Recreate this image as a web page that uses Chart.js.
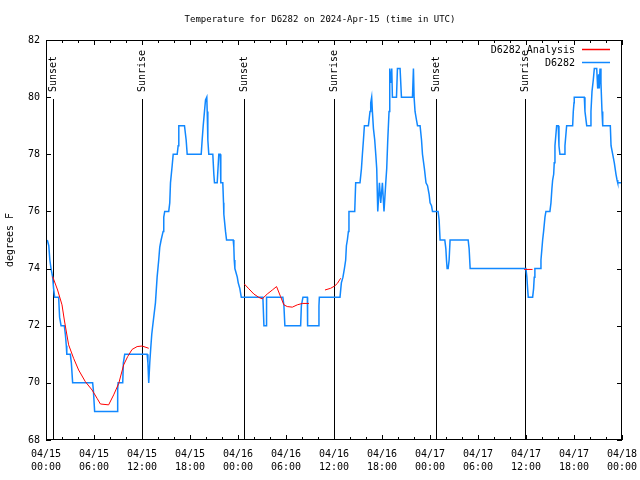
<!DOCTYPE html>
<html>
<head>
<meta charset="utf-8">
<title>Temperature for D6282</title>
<script src="https://cdn.jsdelivr.net/npm/chart.js@4.4.1/dist/chart.umd.min.js"></script>
<style>
  html, body { margin: 0; padding: 0; background: #fff; }
  canvas { display: block; }
</style>
</head>
<body>
<canvas id="myChart" width="640" height="480"></canvas>
<script>
// textos
const chartTitle = "Temperature for D6282 on 2024-Apr-15 (time in UTC)";
const yTitle = "degrees F";
const seriesNames = ["D6282 Analysis", "D6282"];

// observaciones: horas desde 04/15 00:00 UTC y temperatura (F)
const obsHours = [
  0.16, 0.35, 0.48, 0.63, 0.83, 0.95, 1.08, 1.58, 1.70, 1.88, 2.29, 2.42, 2.54, 2.60,
  3.04, 3.17, 3.33, 5.83, 5.92, 6.08, 8.89, 8.96, 9.01, 9.59, 9.67, 9.84, 12.64, 12.74,
  12.84, 12.97, 13.09, 13.22, 13.34, 13.68, 13.89, 14.09, 14.22, 14.39, 14.64, 14.72, 14.84,
  15.34, 15.47, 15.56, 15.77, 15.90, 16.40, 16.52, 16.60, 17.31, 17.52, 17.65, 19.40, 19.52,
  19.65, 19.81, 19.94, 20.10, 20.15, 20.23, 20.35, 20.85, 20.98, 21.06, 21.40, 21.60, 21.78,
  21.85, 22.10, 22.19, 22.23, 22.44, 22.57, 23.40, 23.48, 23.53, 23.61, 23.91, 24.03, 24.23,
  24.41, 27.11, 27.24, 27.54, 27.57, 29.61, 29.74, 29.86, 31.83, 31.92, 32.12, 32.67, 32.70,
  34.04, 34.12, 34.17, 36.75, 36.92, 37.12, 37.30, 37.46, 37.55, 37.67, 37.80, 37.87, 38.59,
  38.71, 39.25, 39.43, 39.55, 39.68, 39.80, 40.30, 40.50, 40.59, 40.71, 40.80, 40.93, 41.09,
  41.22, 41.34, 41.47, 41.68, 41.84, 42.05, 42.25, 42.47, 42.59, 42.72, 42.88, 42.97, 43.09,
  43.22, 43.30, 43.81, 43.93, 44.26, 44.43, 45.81, 45.93, 46.01, 46.13, 46.31, 46.44, 46.76,
  46.94, 47.06, 47.30, 47.50, 47.69, 47.89, 48.01, 48.19, 48.31, 49.01, 49.14, 49.26, 49.85,
  49.98, 50.06, 50.14, 50.27, 50.39, 50.51, 52.77, 52.89, 53.02, 59.99, 60.11, 60.20, 60.28,
  60.83, 60.95, 61.03, 61.11, 61.78, 61.87, 61.99, 62.08, 62.20, 62.37, 62.49, 62.99, 63.12,
  63.24, 63.33, 63.46, 63.53, 63.62, 63.83, 64.03, 64.12, 64.24, 64.78, 64.87, 65.08, 65.83,
  65.91, 66.00, 66.03, 67.29, 67.37, 67.59, 68.00, 68.12, 68.25, 68.41, 68.54, 68.84, 68.96,
  69.09, 69.16, 69.25, 69.37, 69.50, 69.59, 70.54, 70.63, 70.84, 71.04, 71.25, 71.38, 71.47,
  71.88
];
const obsTemps = [
  75.0, 74.8, 74.3, 74.0, 73.7, 73.3, 73.0, 73.0, 72.3, 72.0, 72.0, 71.7, 71.3, 71.0,
  71.0, 70.7, 70.0, 70.0, 69.75, 69.0, 69.0, 69.75, 70.0, 70.0, 70.7, 71.0, 71.0, 70.7,
  70.0, 70.7, 71.2, 71.7, 72.0, 72.8, 73.7, 74.3, 74.75, 75.0, 75.3, 75.8, 76.0,
  76.0, 76.3, 77.0, 77.6, 78.0, 78.0, 78.3, 79.0, 79.0, 78.5, 78.0, 78.0, 78.5,
  79.0, 79.5, 79.9, 80.0, 79.5, 78.5, 78.0, 78.0, 77.3, 77.0, 77.0, 78.0, 78.0,
  77.0, 77.0, 76.3, 75.9, 75.3, 75.0, 75.0, 74.75, 74.3, 74.0, 73.7, 73.5, 73.3,
  73.0, 73.0, 72.0, 72.0, 73.0, 73.0, 72.7, 72.0, 72.0, 72.7, 73.0, 73.0, 72.0,
  72.0, 72.7, 73.0, 73.0, 73.5, 73.7, 74.0, 74.3, 74.8, 75.0, 75.3, 76.0, 76.0,
  77.0, 77.0, 77.5, 78.0, 78.5, 79.0, 79.0, 79.5, 79.8, 80.0, 79.5, 78.9, 78.5,
  78.0, 77.5, 76.0, 77.0, 76.3, 77.0, 76.0, 77.0, 77.5, 78.5, 79.5, 81.0, 80.5,
  81.0, 80.0, 80.0, 81.0, 81.0, 80.0, 80.0, 81.0, 80.0, 79.5, 79.2, 79.0, 79.0,
  78.5, 78.0, 77.5, 77.0, 76.9, 76.6, 76.3, 76.2, 76.0, 76.0, 75.7, 75.0, 75.0,
  74.7, 74.3, 74.0, 74.0, 74.3, 75.0, 75.0, 74.7, 74.0, 74.0, 73.7, 73.3, 73.0,
  73.0, 73.3, 73.7, 74.0, 74.0, 74.3, 74.7, 75.0, 75.3, 75.8, 76.0, 76.0, 76.3,
  76.8, 77.1, 77.3, 77.7, 78.3, 79.0, 79.0, 78.3, 78.0, 78.0, 78.3, 79.0, 79.0,
  79.5, 79.8, 80.0, 80.0, 79.5, 79.0, 79.0, 79.5, 80.2, 80.6, 81.0, 81.0, 80.3,
  80.8, 80.3, 81.0, 80.5, 79.5, 79.0, 79.0, 78.3, 78.0, 77.7, 77.3, 77.1, 77.0,
  77.0
];

// analisis (null = sin dato)
const anaHours = [
  0.83, 1.45, 2.00, 2.29, 2.83, 3.45, 4.08, 4.92, 5.76, 6.38, 6.80, 7.83, 8.46, 9.09,
  9.71, 10.21, 10.76, 11.39, 12.01, 12.84, 18.0,
  24.79, 25.36, 25.98, 26.61, 27.03, 27.66, 28.29, 28.82, 29.32, 29.74, 30.16, 30.79,
  31.41, 32.04, 32.87, 33.8,
  34.87, 35.58, 36.08, 36.42, 36.83, 48.0,
  59.77, 60.82
];
const anaTemps = [
  73.72, 73.25, 72.73, 72.2, 71.33, 70.86, 70.45, 70.04, 69.75, 69.46, 69.26, 69.23, 69.58, 69.98,
  70.63, 70.92, 71.17, 71.27, 71.29, 71.21, null,
  73.46, 73.29, 73.11, 72.99, 72.94, 73.11, 73.25, 73.37, 73.02, 72.73, 72.67, 72.65,
  72.73, 72.78, 72.78, null,
  73.25, 73.31, 73.39, 73.48, 73.66, null,
  73.97, 73.97
];

// salida / puesta del sol
const sunHours = [0.83, 11.97, 24.73, 36.0, 48.75, 59.9];
const sunLabels = ["Sunset", "Sunrise", "Sunset", "Sunrise", "Sunset", "Sunrise"];

// etiquetas del eje x
const dayLabels = ["04/15", "04/16", "04/17", "04/18"];
const hourLabels = ["00:00", "06:00", "12:00", "18:00"];

const FONT = "'DejaVu Sans Mono', 'Liberation Mono', monospace";

(() => {
  const ctxChart = document.getElementById('myChart').getContext('2d');

  const toPoints = (xs, ys) => xs.map((h, i) => ({ x: h, y: ys[i] }));

  // bordes, ticks hacia adentro, lineas del sol, titulo y leyenda
  const decor = {
    id: 'decor',
    beforeDatasetsDraw(chart) {
      const { ctx, chartArea: a, scales: { x } } = chart;
      ctx.save();
      ctx.strokeStyle = '#000';
      ctx.lineWidth = 1;
      ctx.fillStyle = '#000';
      ctx.font = '10px ' + FONT;
      sunHours.forEach((h, i) => {
        const px = Math.round(x.getPixelForValue(h)) + 0.5;
        ctx.beginPath();
        ctx.moveTo(px, a.top + 59);
        ctx.lineTo(px, a.bottom);
        ctx.stroke();
        ctx.save();
        ctx.translate(px, a.top + 52);
        ctx.rotate(-Math.PI / 2);
        ctx.textAlign = 'left';
        ctx.textBaseline = 'middle';
        ctx.fillText(sunLabels[i], 0, 0);
        ctx.restore();
      });
      ctx.restore();
    },
    afterDatasetsDraw(chart) {
      const { ctx, chartArea: a, scales: { x, y } } = chart;
      ctx.save();
      ctx.strokeStyle = '#000';
      ctx.lineWidth = 1;
      ctx.strokeRect(a.left + 0.5, a.top + 0.5, a.right - a.left - 1, a.bottom - a.top - 1);

      ctx.beginPath();
      for (let h = 0; h <= 72; h += 2) {
        const px = Math.round(x.getPixelForValue(h)) + 0.5;
        const len = h % 6 === 0 ? 5 : 3;
        ctx.moveTo(px, a.bottom);
        ctx.lineTo(px, a.bottom - len);
        ctx.moveTo(px, a.top);
        ctx.lineTo(px, a.top + len);
      }
      for (let t = 68; t <= 82; t += 2) {
        const py = Math.round(y.getPixelForValue(t)) + 0.5;
        ctx.moveTo(a.left, py);
        ctx.lineTo(a.left + 5, py);
        ctx.moveTo(a.right, py);
        ctx.lineTo(a.right - 5, py);
      }
      ctx.stroke();

      // titulo
      ctx.fillStyle = '#000';
      ctx.font = '9px ' + FONT;
      ctx.textAlign = 'center';
      ctx.textBaseline = 'middle';
      ctx.fillText(chartTitle, chart.width / 2, 20);

      // titulo eje y
      ctx.save();
      ctx.font = '10px ' + FONT;
      ctx.translate(10, (a.top + a.bottom) / 2);
      ctx.rotate(-Math.PI / 2);
      ctx.fillText(yTitle, 0, 0);
      ctx.restore();

      // leyenda
      ctx.font = '10px ' + FONT;
      ctx.textAlign = 'right';
      chart.data.datasets.forEach((ds, i) => {
        const ly = a.top + 10 + i * 13;
        ctx.fillStyle = '#000';
        ctx.fillText(ds.label, a.right - 47, ly);
        ctx.strokeStyle = ds.borderColor;
        ctx.lineWidth = 1.5;
        ctx.beginPath();
        ctx.moveTo(a.right - 40, ly - 0.5);
        ctx.lineTo(a.right - 12, ly - 0.5);
        ctx.stroke();
      });
      ctx.restore();
    }
  };

  const grafica = new Chart(ctxChart, {
    type: 'line',
    data: {
      datasets: [
        {
          label: seriesNames[0],
          data: toPoints(anaHours, anaTemps),
          borderColor: '#ff0000',
          borderWidth: 1,
          pointRadius: 0,
          tension: 0,
          spanGaps: false
        },
        {
          label: seriesNames[1],
          data: toPoints(obsHours, obsTemps),
          borderColor: '#1188ff',
          borderWidth: 1.5,
          pointRadius: 0,
          tension: 0
        }
      ]
    },
    options: {
      responsive: false,
      animation: false,
      layout: { padding: { top: 40, right: 18, left: 0, bottom: 0 } },
      plugins: {
        legend: { display: false },
        title: { display: false },
        tooltip: { enabled: false }
      },
      scales: {
        x: {
          type: 'linear',
          min: 0,
          max: 72,
          grid: { display: false, drawTicks: false },
          border: { display: false },
          ticks: {
            stepSize: 6,
            autoSkip: false,
            maxRotation: 0,
            padding: 8,
            color: '#000',
            font: { family: FONT, size: 10, lineHeight: 1.3 },
            callback: (v) => [dayLabels[Math.floor(v / 24)], hourLabels[(v % 24) / 6]]
          },
          afterFit: (s) => { s.height = 40; s.paddingLeft = 0; s.paddingRight = 0; }
        },
        y: {
          min: 68,
          max: 82,
          grid: { display: false, drawTicks: false },
          border: { display: false },
          ticks: {
            stepSize: 2,
            padding: 6,
            color: '#000',
            font: { family: FONT, size: 10 }
          },
          afterFit: (s) => { s.width = 46; s.paddingTop = 0; s.paddingBottom = 0; }
        }
      }
    },
    plugins: [decor]
  });
})();
</script>
</body>
</html>
